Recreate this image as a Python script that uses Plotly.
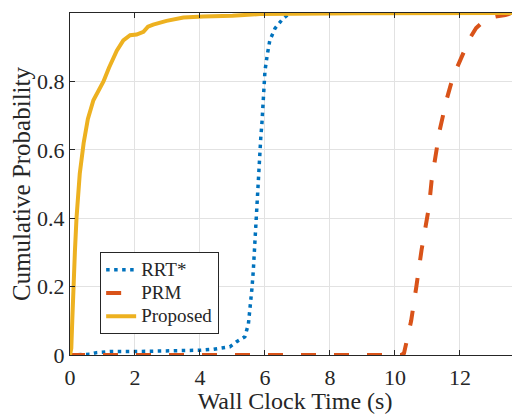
import plotly.graph_objects as go

prop_x = [0, 0.04, 0.07, 0.1, 0.15, 0.2, 0.3, 0.42, 0.55, 0.72, 0.85, 1.03, 1.2, 1.44, 1.64,
          1.85, 2.05, 2.26, 2.4, 2.56, 2.97, 3.49, 4.1, 5.0, 5.85, 7.0, 9.0, 13.85]
prop_y = [0, 0.02, 0.1, 0.2, 0.3, 0.4, 0.53, 0.62, 0.69, 0.745, 0.77, 0.80, 0.84, 0.89, 0.92,
          0.935, 0.937, 0.945, 0.96, 0.966, 0.977, 0.987, 0.99, 0.992, 0.997, 0.998, 0.999, 1.0]

rrt_x = [0, 0.5, 0.6, 0.82, 1.0, 1.23, 2.0, 3.0, 3.59, 4.0, 4.4, 4.6, 4.92, 5.13, 5.38, 5.49,
         5.56, 5.6, 5.64, 5.68, 5.72, 5.76, 5.8, 5.83, 5.87, 5.91, 5.95, 6.0, 6.07, 6.15,
         6.31, 6.56, 6.77, 13.85]
rrt_y = [0, 0, 0.002, 0.007, 0.009, 0.01, 0.01, 0.011, 0.0126, 0.014, 0.0166, 0.019, 0.024,
         0.039, 0.053, 0.09, 0.146, 0.195, 0.244, 0.317, 0.365, 0.44, 0.51, 0.58, 0.633,
         0.682, 0.75, 0.83, 0.877, 0.92, 0.955, 0.984, 1.0, 1.0]

prm_x = [0, 10.2, 10.28, 10.5, 10.66, 10.82, 11.05, 11.13, 11.38, 11.6, 11.79, 12.1, 12.3,
         12.5, 12.82, 13.1, 13.4, 13.6, 13.85]
prm_y = [0, 0, 0.005, 0.1, 0.2, 0.307, 0.434, 0.51, 0.658, 0.75, 0.814, 0.88, 0.925,
         0.956, 0.984, 0.99, 0.994, 1.0, 1.0]

series_names = ["RRT*", "PRM", "Proposed"]
x_ticks = [0, 2, 4, 6, 8, 10, 12]
y_ticks = [0, 0.2, 0.4, 0.6, 0.8, 1]
y_tick_text = ["0", "0.2", "0.4", "0.6", "0.8", "1"]

FONT = "Liberation Serif, Times New Roman, serif"
AX = "#262626"


def leg(name):
    # larger legend text while keeping MATLAB-like tight row spacing
    return f"<span style='font-size:19px'>{name}</span>"


fig = go.Figure()
fig.add_trace(go.Scatter(x=rrt_x, y=rrt_y, mode="lines", name=leg(series_names[0]),
                         line=dict(color="#0072BD", width=3.5, dash="3.5px,4.5px")))
fig.add_trace(go.Scatter(x=prm_x, y=prm_y, mode="lines", name=leg(series_names[1]),
                         line=dict(color="#D95319", width=4, dash="15px,18px")))
fig.add_trace(go.Scatter(x=prop_x, y=prop_y, mode="lines", name=leg(series_names[2]),
                         line=dict(color="#EDB120", width=4)))

axis_common = dict(showline=True, linecolor=AX, linewidth=1, mirror="ticks",
                   ticks="inside", ticklen=5, tickcolor=AX, showgrid=True,
                   gridcolor="#e2e2e2", gridwidth=1, zeroline=False,
                   tickfont=dict(family=FONT, size=22, color=AX))

# The page body adds an 8px offset; the figure is sized to fill the rest of the window.
fig.update_layout(
    width=512, height=406,
    margin=dict(l=62, r=0, t=5, b=59),
    paper_bgcolor="white", plot_bgcolor="white",
    font=dict(family=FONT, color=AX),
    showlegend=True,
    legend=dict(x=0.067, y=0.301, xanchor="left", yanchor="top",
                bgcolor="white", bordercolor=AX, borderwidth=1,
                font=dict(family=FONT, size=15.6, color=AX),
                tracegroupgap=0, itemwidth=30),
    xaxis=dict(range=[0, 13.85], tickvals=x_ticks, **axis_common,
               ticklabelstandoff=3,
               title=dict(text="Wall Clock Time (s)", font=dict(family=FONT, size=24, color=AX),
                          standoff=9),
               automargin=False),
    yaxis=dict(range=[0, 1], tickvals=y_ticks, ticktext=y_tick_text, **axis_common,
               title=dict(text="Cumulative Probability", font=dict(family=FONT, size=25, color=AX),
                          standoff=4),
               automargin=False),
)

fig.write_html("out.html")
